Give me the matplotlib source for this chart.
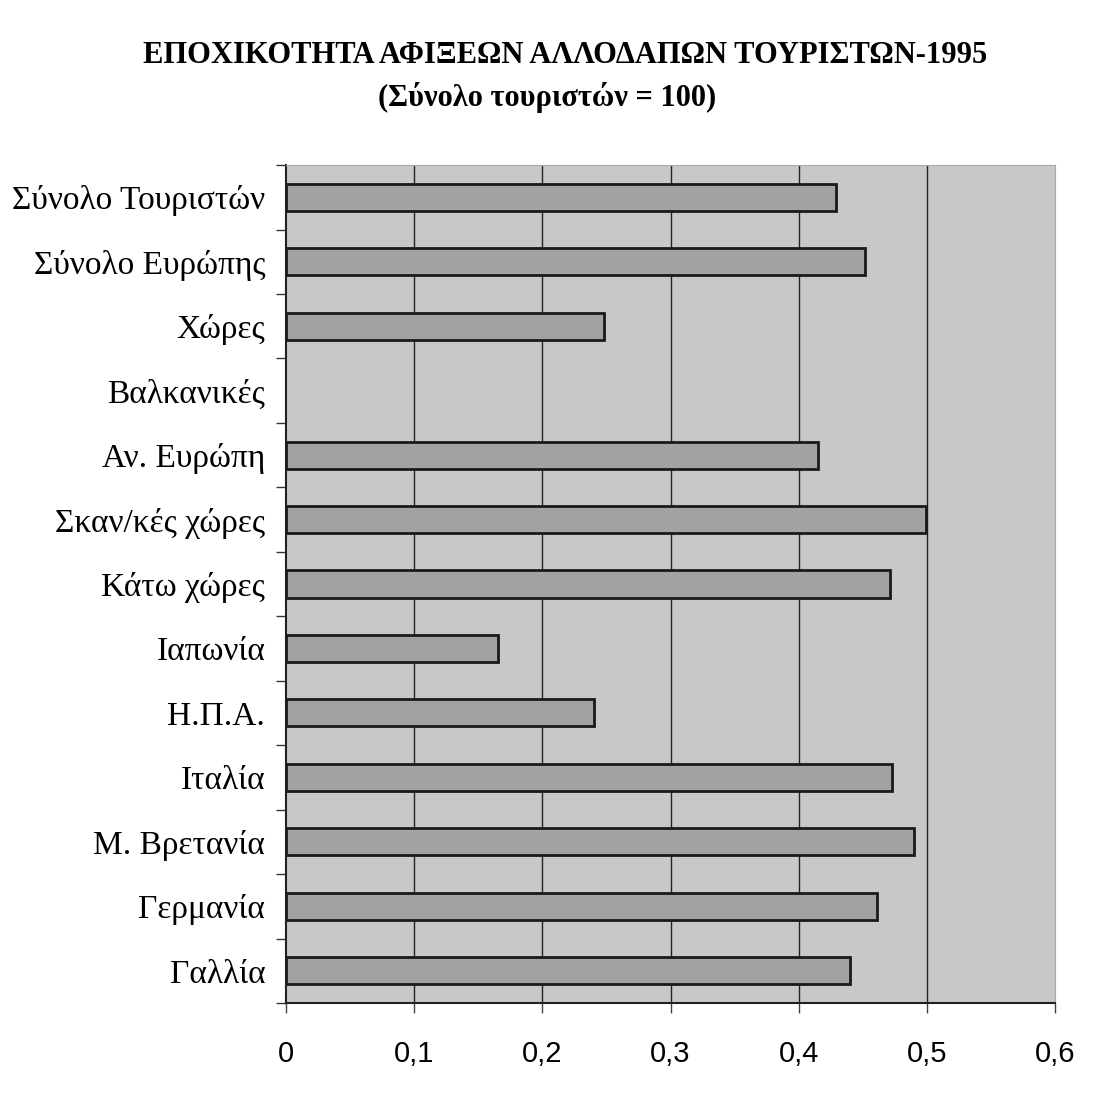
import matplotlib.pyplot as plt
import numpy as np

categories = ["Σύνολο Τουριστών", "Σύνολο Ευρώπης", "Χώρες", "Βαλκανικές",
              "Αν. Ευρώπη", "Σκαν/κές χώρες", "Κάτω χώρες", "Ιαπωνία",
              "Η.Π.Α.", "Ιταλία", "Μ. Βρετανία", "Γερμανία", "Γαλλία"]
values = [0.429, 0.452, 0.248, np.nan, 0.415, 0.499, 0.471, 0.165,
          0.240, 0.473, 0.490, 0.461, 0.440]
x_ticks = [0, 0.1, 0.2, 0.3, 0.4, 0.5, 0.6]
x_labels = ["0", "0,1", "0,2", "0,3", "0,4", "0,5", "0,6"]

fig = plt.figure(figsize=(11.13, 11.04), dpi=100)
ax = fig.add_axes([0.257, 0.0915, 0.691, 0.759])
ax.set_facecolor("#c8c8c8")

pos = np.arange(len(categories))
vals = [0 if np.isnan(v) else v for v in values]
bars = ax.barh(pos, vals, height=0.42, color="#a2a2a2", edgecolor="#1a1a1a",
               linewidth=2.0, zorder=3)
for b, v in zip(bars, values):
    if np.isnan(v):
        b.set_visible(False)

ax.set_ylim(len(categories) - 0.5, -0.5)
ax.set_xlim(0, 0.6)

# major ticks on the category borders, labels on minor ticks at the centres
ax.set_yticks(np.arange(len(categories) + 1) - 0.5)
ax.set_yticklabels([])
ax.set_yticks(pos, minor=True)
ax.set_yticklabels(categories, minor=True, fontfamily="Liberation Serif",
                   fontsize=24)
ax.tick_params(axis="y", which="minor", length=0, pad=15)
ax.tick_params(axis="y", which="major", length=7, width=1, color="#333333")

ax.set_xticks(x_ticks)
ax.set_xticklabels(x_labels, fontfamily="Liberation Sans", fontsize=21)
ax.tick_params(axis="x", length=7, width=1, color="#444444", pad=20)

for t in x_ticks[1:-1]:
    ax.axvline(t, color="#222222", linewidth=1.0, zorder=1)

ax.spines["left"].set_color("#222222")
ax.spines["left"].set_linewidth(1.5)
ax.spines["bottom"].set_color("#222222")
ax.spines["bottom"].set_linewidth(1.5)
ax.spines["top"].set_color("#a8a8a8")
ax.spines["right"].set_color("#a8a8a8")

fig.text(0.508, 0.950, "ΕΠΟΧΙΚΟΤΗΤΑ ΑΦΙΞΕΩΝ ΑΛΛΟΔΑΠΩΝ ΤΟΥΡΙΣΤΩΝ-1995",
         ha="center", va="center", fontfamily="Liberation Serif",
         fontweight="bold", fontsize=22)
fig.text(0.492, 0.912, "(Σύνολο τουριστών = 100)",
         ha="center", va="center", fontfamily="Liberation Serif",
         fontweight="bold", fontsize=22)

fig.savefig("out.png", dpi=100)
